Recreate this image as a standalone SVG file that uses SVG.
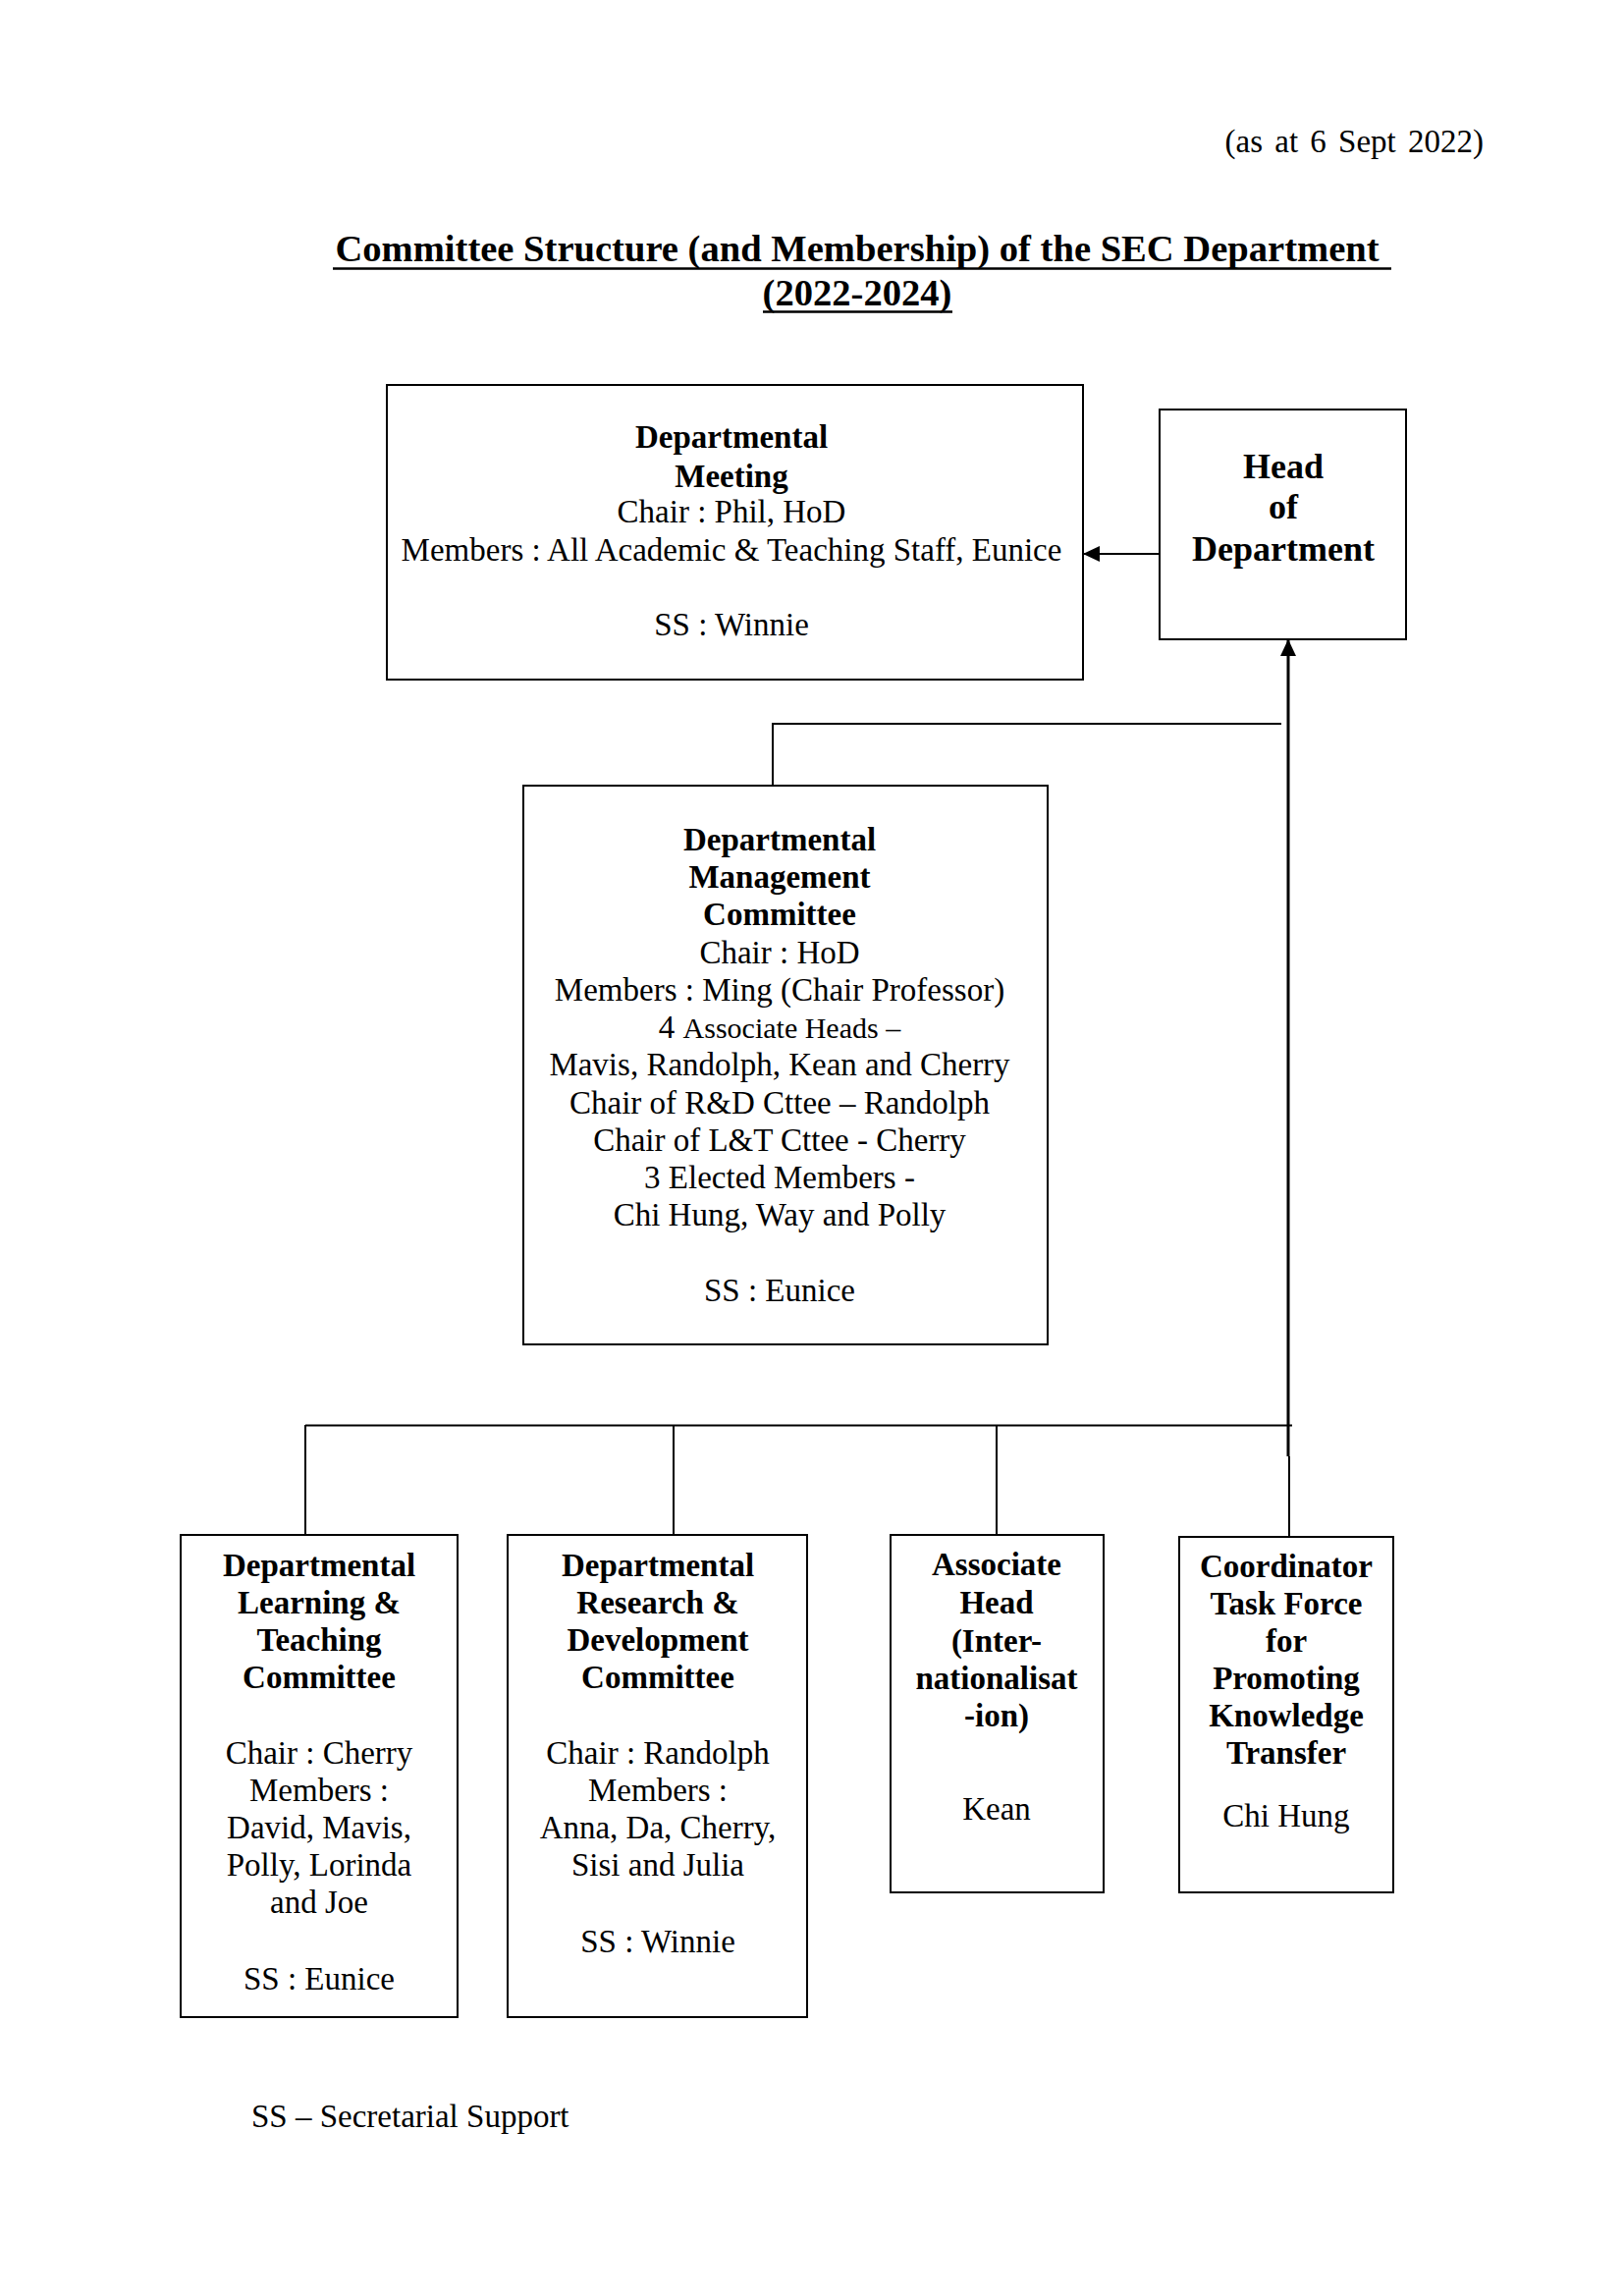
<svg xmlns="http://www.w3.org/2000/svg" width="1654" height="2338" viewBox="0 0 1654 2338">
<style>
text { font-family: "Liberation Serif", "Times New Roman", serif; fill: #000; }
.b { font-weight: bold; font-size: 33px; }
.r { font-size: 33px; }
.c { text-anchor: middle; }
.box { fill: #fff; stroke: #000; stroke-width: 2; }
.con { fill: none; stroke: #000; stroke-width: 2; }
.thick { stroke-width: 3; }
</style>
<defs>
<marker id="arr" markerWidth="18" markerHeight="16" refX="17" refY="8" orient="auto" markerUnits="userSpaceOnUse">
<path d="M0,0 L17,8 L0,16 Z" fill="#000"/>
</marker>
</defs>
<rect width="1654" height="2338" fill="#fff"/>

<text class="r" x="1511" y="155" text-anchor="end" word-spacing="4">(as at 6 Sept 2022)</text>
<g id="title">
<text class="c" x="873" y="266" font-weight="bold" font-size="38.6px">Committee Structure (and Membership) of the SEC Department</text>
<line x1="339" y1="273.5" x2="1417" y2="273.5" stroke="#000" stroke-width="2.5"/>
<text class="c" x="873" y="310.5" font-weight="bold" font-size="38.6px">(2022-2024)</text>
<line x1="777" y1="317.5" x2="970" y2="317.5" stroke="#000" stroke-width="2.5"/>
</g>

<g id="connectors">
<line class="con" x1="1181" y1="564" x2="1103" y2="564" marker-end="url(#arr)" stroke-width="2.5"/>
<line class="con thick" x1="1312" y1="1483" x2="1312" y2="651" marker-end="url(#arr)"/>
<polyline class="con" points="1305,737 787,737 787,800"/>
<line class="con" x1="311" y1="1451.5" x2="1316" y2="1451.5"/>
<line class="con" x1="311" y1="1451" x2="311" y2="1563"/>
<line class="con" x1="686" y1="1451" x2="686" y2="1563"/>
<line class="con" x1="1015" y1="1451" x2="1015" y2="1563"/>
<line class="con" x1="1313" y1="1483" x2="1313" y2="1565"/>
</g>

<g id="departmental-meeting">
<rect class="box" x="394" y="392" width="709" height="300"/>
<text class="b c" x="745" y="456">Departmental</text>
<text class="b c" x="745" y="496">Meeting</text>
<text class="r c" x="745" y="532">Chair : Phil, HoD</text>
<text class="r c" x="745" y="571">Members : All Academic &amp; Teaching Staff, Eunice</text>
<text class="r c" x="745" y="647">SS : Winnie</text>
</g>

<g id="head-of-department">
<rect class="box" x="1181" y="417" width="251" height="234" stroke-width="2.5"/>
<text class="c" x="1307" y="487" font-weight="bold" font-size="36px">Head</text>
<text class="c" x="1307" y="528" font-weight="bold" font-size="36px">of</text>
<text class="c" x="1307" y="571" font-weight="bold" font-size="36px">Department</text>
</g>

<g id="management-committee">
<rect class="box" x="533" y="800" width="534" height="569"/>
<text class="b c" x="794" y="866">Departmental</text>
<text class="b c" x="794" y="904">Management</text>
<text class="b c" x="794" y="942">Committee</text>
<text class="r c" x="794" y="981">Chair : HoD</text>
<text class="r c" x="794" y="1019">Members : Ming (Chair Professor)</text>
<text class="r c" x="794" y="1057">4 <tspan font-size="30px">Associate Heads –</tspan></text>
<text class="r c" x="794" y="1095">Mavis, Randolph, Kean and Cherry</text>
<text class="r c" x="794" y="1134">Chair of R&amp;D Cttee – Randolph</text>
<text class="r c" x="794" y="1172">Chair of L&amp;T Cttee - Cherry</text>
<text class="r c" x="794" y="1210">3 Elected Members -</text>
<text class="r c" x="794" y="1248">Chi Hung, Way and Polly</text>
<text class="r c" x="794" y="1325">SS : Eunice</text>
</g>

<g id="learning-teaching">
<rect class="box" x="184" y="1563" width="282" height="491"/>
<text class="b c" x="325" y="1605">Departmental</text>
<text class="b c" x="325" y="1643">Learning &amp;</text>
<text class="b c" x="325" y="1681">Teaching</text>
<text class="b c" x="325" y="1719">Committee</text>
<text class="r c" x="325" y="1796">Chair : Cherry</text>
<text class="r c" x="325" y="1834">Members :</text>
<text class="r c" x="325" y="1872">David, Mavis,</text>
<text class="r c" x="325" y="1910">Polly, Lorinda</text>
<text class="r c" x="325" y="1948">and Joe</text>
<text class="r c" x="325" y="2026">SS : Eunice</text>
</g>

<g id="research-development">
<rect class="box" x="517" y="1563" width="305" height="491"/>
<text class="b c" x="670" y="1605">Departmental</text>
<text class="b c" x="670" y="1643">Research &amp;</text>
<text class="b c" x="670" y="1681">Development</text>
<text class="b c" x="670" y="1719">Committee</text>
<text class="r c" x="670" y="1796">Chair : Randolph</text>
<text class="r c" x="670" y="1834">Members :</text>
<text class="r c" x="670" y="1872">Anna, Da, Cherry,</text>
<text class="r c" x="670" y="1910">Sisi and Julia</text>
<text class="r c" x="670" y="1988">SS : Winnie</text>
</g>

<g id="associate-head">
<rect class="box" x="907" y="1563" width="217" height="364"/>
<text class="b c" x="1015" y="1604">Associate</text>
<text class="b c" x="1015" y="1643">Head</text>
<text class="b c" x="1015" y="1682">(Inter-</text>
<text class="b c" x="1015" y="1720">nationalisat</text>
<text class="b c" x="1015" y="1758">-ion)</text>
<text class="r c" x="1015" y="1853">Kean</text>
</g>

<g id="coordinator-task-force">
<rect class="box" x="1201" y="1565" width="218" height="362"/>
<text class="b c" x="1310" y="1606">Coordinator</text>
<text class="b c" x="1310" y="1644">Task Force</text>
<text class="b c" x="1310" y="1682">for</text>
<text class="b c" x="1310" y="1720">Promoting</text>
<text class="b c" x="1310" y="1758">Knowledge</text>
<text class="b c" x="1310" y="1796">Transfer</text>
<text class="r c" x="1310" y="1860">Chi Hung</text>
</g>

<text class="r" x="256" y="2166">SS – Secretarial Support</text>
</svg>
